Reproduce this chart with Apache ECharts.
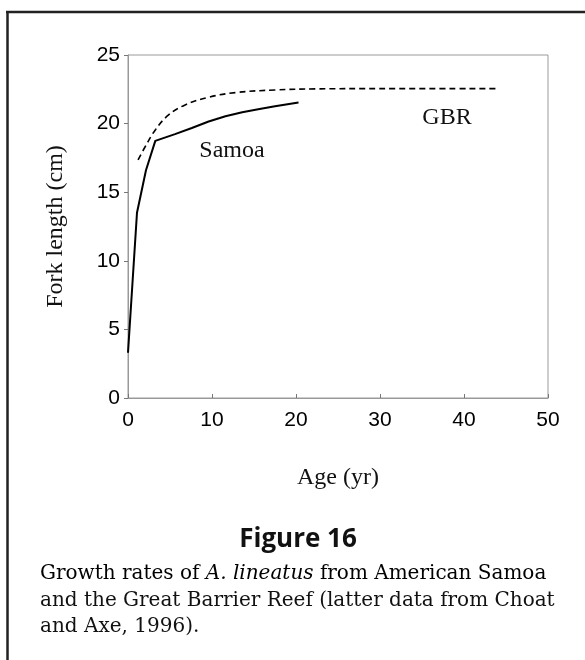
<!DOCTYPE html>
<html>
<head>
<meta charset="utf-8">
<title>Figure 16</title>
<script src="https://cdn.jsdelivr.net/npm/echarts@6/dist/echarts.min.js"></script>
<style>
  html, body { margin: 0; padding: 0; background: #fff; }
  #chart { width: 585px; height: 660px; }
</style>
</head>
<body>
<div id="chart"></div>
<script>
// data
const samoaAge = [0, 1.07, 2.14, 3.25, 5.6, 7.6, 9.6, 11.6, 13.6, 15.5, 17.5, 20.3];
const samoaLen = [3.3, 13.5, 16.6, 18.74, 19.23, 19.68, 20.15, 20.54, 20.83, 21.05, 21.26, 21.53];
const gbrAge = [1.2, 2.06, 3.25, 4.83, 6.8, 9.6, 12.8, 17.5, 22.3, 30, 43.8];
const gbrLen = [17.36, 18.33, 19.54, 20.63, 21.36, 21.92, 22.26, 22.45, 22.53, 22.55, 22.55];
const xTicks = [0, 10, 20, 30, 40, 50];
const yTicks = [0, 5, 10, 15, 20, 25];

const serif = '"Liberation Serif", "Times New Roman", serif';
const sans = '"Liberation Sans", Arial, sans-serif';
const capFont = '"DejaVu Serif", serif';

document.addEventListener('DOMContentLoaded', function () {
    const chart = echarts.init(document.getElementById('chart'));

    const option = {
        animation: false,
        backgroundColor: '#fff',
        grid: {
            left: 128,
            top: 55,
            right: 37,
            bottom: 262,
            show: true,
            borderColor: '#9a9a9a',
            borderWidth: 1
        },
        xAxis: {
            type: 'value',
            min: xTicks[0],
            max: xTicks[xTicks.length - 1],
            interval: 10,
            name: 'Age (yr)',
            nameLocation: 'middle',
            nameGap: 68,
            nameTextStyle: { fontFamily: serif, fontSize: 24, color: '#111' },
            axisLine: { lineStyle: { color: '#999', width: 1 } },
            axisTick: { show: true, inside: true, length: 4, lineStyle: { color: '#777' } },
            axisLabel: { fontFamily: sans, fontSize: 21, color: '#000', margin: 12 },
            splitLine: { show: false }
        },
        yAxis: {
            type: 'value',
            min: yTicks[0],
            max: yTicks[yTicks.length - 1],
            interval: 5,
            name: 'Fork length (cm)',
            nameLocation: 'middle',
            nameGap: 60,
            nameTextStyle: { fontFamily: serif, fontSize: 24, color: '#111' },
            axisLine: { show: true, lineStyle: { color: '#999', width: 1 } },
            axisTick: { show: true, length: 4, lineStyle: { color: '#777' } },
            axisLabel: { fontFamily: sans, fontSize: 21, color: '#000', margin: 8 },
            splitLine: { show: false }
        },
        series: [
            {
                name: 'Samoa',
                type: 'line',
                data: samoaAge.map((a, i) => [a, samoaLen[i]]),
                showSymbol: false,
                smooth: false,
                lineStyle: { color: '#000', width: 2 }
            },
            {
                name: 'GBR',
                type: 'line',
                data: gbrAge.map((a, i) => [a, gbrLen[i]]),
                showSymbol: false,
                smooth: 0.4,
                lineStyle: { color: '#000', width: 1.6, type: [6, 4] }
            }
        ],
        graphic: [
            // outer frame (top and left)
            { type: 'line', shape: { x1: 6, y1: 12, x2: 585, y2: 12 }, style: { stroke: '#222', lineWidth: 2.5 } },
            { type: 'line', shape: { x1: 7.5, y1: 11, x2: 7.5, y2: 660 }, style: { stroke: '#222', lineWidth: 2.5 } },
            // curve labels
            { type: 'text', x: 232, y: 151, style: { text: 'Samoa', font: '24px ' + serif, fill: '#111', align: 'center', verticalAlign: 'middle' } },
            { type: 'text', x: 447, y: 118, style: { text: 'GBR', font: '24px ' + serif, fill: '#111', align: 'center', verticalAlign: 'middle' } },
            // caption
            { type: 'text', x: 298, y: 540, style: { text: 'Figure 16', font: 'bold 26px "Open Sans", ' + sans, fill: '#111', align: 'center', verticalAlign: 'middle' } },
            {
                type: 'text', x: 40, y: 574,
                style: {
                    text: '{n|Growth rates of }{i|A. lineatus}{n| from American Samoa}',
                    verticalAlign: 'middle',
                    rich: {
                        n: { fontFamily: capFont, fontSize: 20, color: '#111' },
                        i: { fontFamily: capFont, fontSize: 20, fontStyle: 'italic', color: '#111' }
                    }
                }
            },
            { type: 'text', x: 40, y: 601, style: { text: 'and the Great Barrier Reef (latter data from Choat', font: '20px ' + capFont, fill: '#111', verticalAlign: 'middle' } },
            { type: 'text', x: 40, y: 627, style: { text: 'and Axe, 1996).', font: '20px ' + capFont, fill: '#111', verticalAlign: 'middle' } }
        ]
    };

    chart.setOption(option);

    window.addEventListener('resize', function () {
        chart.resize();
    });
});
</script>
</body>
</html>
